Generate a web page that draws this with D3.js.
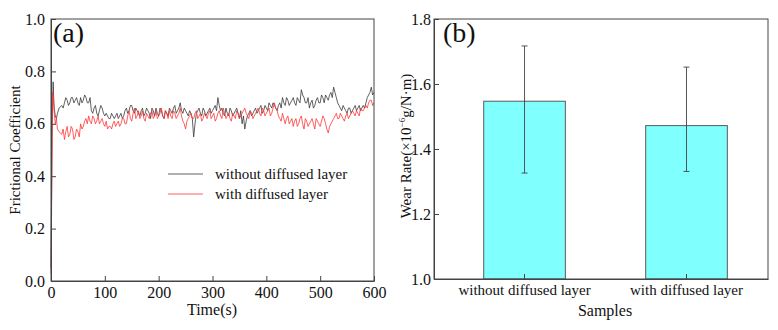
<!DOCTYPE html>
<html>
<head>
<meta charset="utf-8">
<script src="https://cdn.jsdelivr.net/npm/d3@7"></script>
<style>
  body { margin: 0; background: #fff; }
  svg { display: block; }
  svg text { font-family: "Liberation Serif", "DejaVu Serif", serif; }
</style>
</head>
<body>
<div id="chart"></div>
<script>
// ---- data (a): frictional coefficient vs time ----
var timeS = [0,1,2,3,4,5,6,8,10,12,15,
  20,22.5,25,27.5,30,32.5,35,37.5,40,42.5,45,47.5,
  50,52.5,55,57.5,60,62.5,65,67.5,70,72.5,75,77.5,80,82.5,85,87.5,90,92.5,95,97.5,
  100,102.5,105,107.5,110,112.5,115,117.5,120,122.5,125,127.5,130,132.5,135,137.5,140,142.5,145,147.5,
  150,152.5,155,157.5,160,162.5,165,167.5,170,172.5,175,177.5,180,182.5,185,187.5,190,192.5,195,197.5,
  200,202.5,205,207.5,210,212.5,215,217.5,220,222.5,225,227.5,230,232.5,235,237.5,240,242.5,245,247.5,
  250,252.5,255,257.5,260,262.5,265,267.5,270,272.5,275,277.5,280,282.5,285,287.5,290,292.5,295,297.5,
  300,302.5,305,307.5,310,312.5,315,317.5,320,322.5,325,327.5,330,332.5,335,337.5,340,342.5,345,347.5,
  350,352.5,355,357.5,360,362.5,365,367.5,370,372.5,375,377.5,380,382.5,385,387.5,390,392.5,395,397.5,
  400,402.5,405,407.5,410,412.5,415,417.5,420,422.5,425,427.5,430,432.5,435,437.5,440,442.5,445,447.5,
  450,452.5,455,457.5,460,462.5,465,467.5,470,472.5,475,477.5,480,482.5,485,487.5,490,492.5,495,497.5,
  500,502.5,505,507.5,510,512.5,515,517.5,520,522.5,525,527.5,530,532.5,535,537.5,540,542.5,545,547.5,
  550,552.5,555,557.5,560,562.5,565,567.5,570,572.5,575,577.5,580,582.5,585,587.5,590,592.5,595,597.5,
  600]
var withoutLayer = [0.05,0.30,0.55,0.68,0.76,0.70,0.66,0.63,0.62,0.64,0.66,
  .67,.66,.68,.70,.69,.67,.68,.70,.70,.68,.69,.70,
  .68,.67,.70,.68,.69,.71,.70,.68,.68,.70,.65,.64,.66,.67,.64,.63,.65,.67,.66,.64,
  .63,.64,.63,.62,.62,.64,.63,.62,.63,.64,.62,.63,.64,.62,.63,.65,.66,.64,.65,.67,
  .67,.65,.64,.66,.65,.64,.63,.65,.66,.63,.64,.66,.65,.64,.62,.66,.65,.63,.66,.64,
  .63,.66,.65,.63,.62,.65,.64,.63,.66,.65,.64,.66,.67,.64,.65,.66,.68,.65,.64,.66,
  .65,.64,.63,.65,.64,.62,.55,.60,.64,.65,.66,.64,.63,.66,.65,.63,.64,.65,.66,.64,
  .65,.66,.67,.65,.70,.67,.65,.66,.64,.63,.66,.64,.63,.66,.65,.63,.64,.65,.66,.64,
  .62,.65,.60,.63,.58,.61,.63,.64,.65,.63,.64,.65,.66,.64,.65,.66,.67,.64,.65,.67,
  .66,.65,.68,.67,.66,.68,.67,.66,.65,.67,.68,.66,.70,.68,.67,.70,.69,.67,.68,.69,
  .70,.68,.67,.70,.69,.68,.73,.71,.70,.68,.68,.70,.66,.68,.69,.66,.67,.69,.70,.68,
  .68,.71,.70,.68,.71,.70,.69,.71,.72,.70,.74,.72,.70,.68,.67,.66,.65,.67,.66,.65,
  .64,.66,.66,.64,.65,.66,.67,.65,.66,.67,.65,.66,.67,.66,.68,.70,.71,.72,.74,.71,
  .72]
var withLayer = [0.03,0.25,0.50,0.72,0.70,0.68,0.64,0.60,0.62,0.58,0.57,
  .56,.58,.54,.57,.59,.55,.56,.59,.58,.54,.55,.58,
  .57,.55,.60,.58,.59,.61,.62,.60,.63,.61,.60,.63,.62,.60,.61,.63,.60,.61,.62,.60,
  .59,.61,.58,.59,.59,.58,.60,.61,.59,.60,.61,.59,.60,.62,.62,.60,.60,.63,.65,.62,
  .61,.64,.66,.62,.63,.65,.62,.63,.65,.62,.61,.64,.63,.62,.64,.65,.62,.63,.65,.62,
  .63,.64,.66,.63,.62,.65,.64,.62,.65,.63,.62,.65,.64,.62,.63,.64,.66,.63,.61,.60,
  .58,.61,.62,.63,.64,.62,.62,.64,.65,.62,.63,.64,.61,.62,.64,.63,.62,.64,.65,.62,
  .63,.64,.61,.62,.64,.65,.63,.62,.66,.64,.62,.63,.64,.62,.61,.64,.63,.62,.65,.64,
  .62,.63,.64,.65,.66,.64,.63,.62,.65,.64,.62,.63,.64,.65,.66,.64,.63,.66,.65,.63,
  .64,.65,.66,.63,.64,.66,.68,.66,.65,.63,.62,.61,.64,.62,.60,.62,.63,.60,.61,.62,
  .59,.61,.62,.59,.60,.62,.63,.60,.58,.62,.61,.59,.60,.61,.62,.60,.58,.62,.61,.60,
  .59,.61,.63,.62,.60,.58,.565,.59,.60,.61,.62,.63,.64,.62,.62,.64,.63,.62,.61,.63,
  .64,.62,.63,.64,.65,.64,.63,.65,.64,.63,.66,.65,.65,.66,.67,.66,.68,.69,.69,.67,
  .68]
var seriesNames = ["without diffused layer", "with diffused layer"]
var xTicksA = [0,100,200,300,400,500,600]
var yTicksA = [0.0,0.2,0.4,0.6,0.8,1.0]

// ---- data (b): wear rate ----
var samples = ["without diffused layer", "with diffused layer"]
var wearRate = [1.547, 1.472]
var errHigh = [1.717, 1.652]
var errLow = [1.326, 1.331]
var yTicksB = [1.0,1.2,1.4,1.6,1.8]

var svg = d3.select("#chart").append("svg")
  .attr("width", 778).attr("height", 330)

var axisColor = "#444"
var textColor = "#111"
var blackLine = "#3a3a3a", redLine = "#ff3535"

// ================= (a) =================
var xA = d3.scaleLinear().domain([0, 600]).range([51, 374])
var yA = d3.scaleLinear().domain([0, 1]).range([281, 19])
var gA = svg.append("g")

var lineA = d3.line()
  .x(function(d, i){ return xA(timeS[i]) })
  .y(function(d){ return yA(d) })

gA.append("path").datum(withoutLayer)
  .attr("d", lineA).attr("fill", "none")
  .attr("stroke", blackLine).attr("stroke-width", 0.8)
gA.append("path").datum(withLayer)
  .attr("d", lineA).attr("fill", "none")
  .attr("stroke", redLine).attr("stroke-width", 0.8)

gA.append("g").attr("class", "axis")
  .attr("transform", "translate(0,281)")
  .call(d3.axisBottom(xA).tickValues(xTicksA).tickSizeInner(-5).tickSizeOuter(0).tickPadding(6).tickFormat(d3.format("d")))
gA.append("g").attr("class", "axis")
  .attr("transform", "translate(51,0)")
  .call(d3.axisLeft(yA).tickValues(yTicksA).tickSizeInner(-5).tickSizeOuter(0).tickPadding(6).tickFormat(d3.format(".1f")))

// frame
gA.append("rect")
  .attr("x", xA(0)).attr("y", yA(1))
  .attr("width", xA(600) - xA(0)).attr("height", yA(0) - yA(1))
  .attr("fill", "none").attr("stroke", axisColor).attr("stroke-width", 1)

// legend
var legColors = [blackLine, redLine]
seriesNames.forEach(function(name, i){
  var ly = 174 + i * 20
  gA.append("line").attr("x1", 168).attr("x2", 203).attr("y1", ly).attr("y2", ly)
    .attr("stroke", legColors[i]).attr("stroke-width", 0.8)
  gA.append("text").attr("x", 215).attr("y", ly + 5)
    .style("font-size", "15px").attr("fill", textColor).text(name)
})

gA.append("text").attr("x", 53).attr("y", 42)
  .style("font-size", "28px").attr("fill", textColor).text("(a)")
gA.append("text").attr("x", 212).attr("y", 315)
  .attr("text-anchor", "middle").style("font-size", "16px").attr("fill", textColor).text("Time(s)")
gA.append("text")
  .attr("transform", "translate(20,150) rotate(-90)")
  .attr("text-anchor", "middle").style("font-size", "15px").attr("fill", textColor).text("Frictional Coefficient")

// ================= (b) =================
var xB = d3.scaleBand().domain(samples).range([434, 768])
  .paddingInner(0.496).paddingOuter(0.279).align(0.55)
var yB = d3.scaleLinear().domain([1.0, 1.8]).range([279, 19])
var gB = svg.append("g")

gB.selectAll("rect.bar").data(samples).join("rect")
  .attr("class", "bar")
  .attr("x", function(d){ return xB(d) })
  .attr("y", function(d, i){ return yB(wearRate[i]) })
  .attr("width", xB.bandwidth())
  .attr("height", function(d, i){ return yB(1.0) - yB(wearRate[i]) })
  .attr("fill", "#80ffff").attr("stroke", "#5a5a5a").attr("stroke-width", 1)

// error bars
samples.forEach(function(s, i){
  var cx = xB(s) + xB.bandwidth() / 2
  gB.append("line").attr("x1", cx).attr("x2", cx)
    .attr("y1", yB(errHigh[i])).attr("y2", yB(errLow[i]))
    .attr("stroke", "#444").attr("stroke-width", 0.9)
  ;[errHigh[i], errLow[i]].forEach(function(v){
    gB.append("line").attr("x1", cx - 3).attr("x2", cx + 3)
      .attr("y1", yB(v)).attr("y2", yB(v))
      .attr("stroke", "#444").attr("stroke-width", 0.9)
  })
})

var xAxisB = gB.append("g").attr("class", "axis")
  .attr("transform", "translate(0,279)")
  .call(d3.axisBottom(xB).tickSizeInner(-5).tickSizeOuter(0).tickPadding(5))
gB.append("g").attr("class", "axis")
  .attr("transform", "translate(434,0)")
  .call(d3.axisLeft(yB).tickValues(yTicksB).tickSizeInner(-5).tickSizeOuter(0).tickPadding(3).tickFormat(d3.format(".1f")))

gB.append("rect")
  .attr("x", 434).attr("y", yB(1.8))
  .attr("width", 768 - 434).attr("height", yB(1.0) - yB(1.8))
  .attr("fill", "none").attr("stroke", axisColor).attr("stroke-width", 1)

gB.append("text").attr("x", 443).attr("y", 42)
  .style("font-size", "28px").attr("fill", textColor).text("(b)")
gB.append("text").attr("x", 605).attr("y", 316)
  .attr("text-anchor", "middle").style("font-size", "16px").attr("fill", textColor).text("Samples")
var wl = gB.append("text")
  .attr("transform", "translate(411,146) rotate(-90)")
  .attr("text-anchor", "middle").style("font-size", "15px").attr("fill", textColor)
wl.append("tspan").text("Wear Rate(\u00d710")
wl.append("tspan").attr("dy", -6).style("font-size", "9px").text("\u22126")
wl.append("tspan").attr("dy", 6).text("g/N\u00b7m)")

// axis styling
svg.selectAll(".axis").attr("font-family", null).attr("font-size", null)
svg.selectAll(".domain").attr("stroke", axisColor)
svg.selectAll(".tick line").attr("stroke", axisColor)
svg.selectAll(".tick text").style("font-size", "16px").attr("fill", textColor)
xAxisB.selectAll(".tick text").style("font-size", "15px")
</script>
</body>
</html>
